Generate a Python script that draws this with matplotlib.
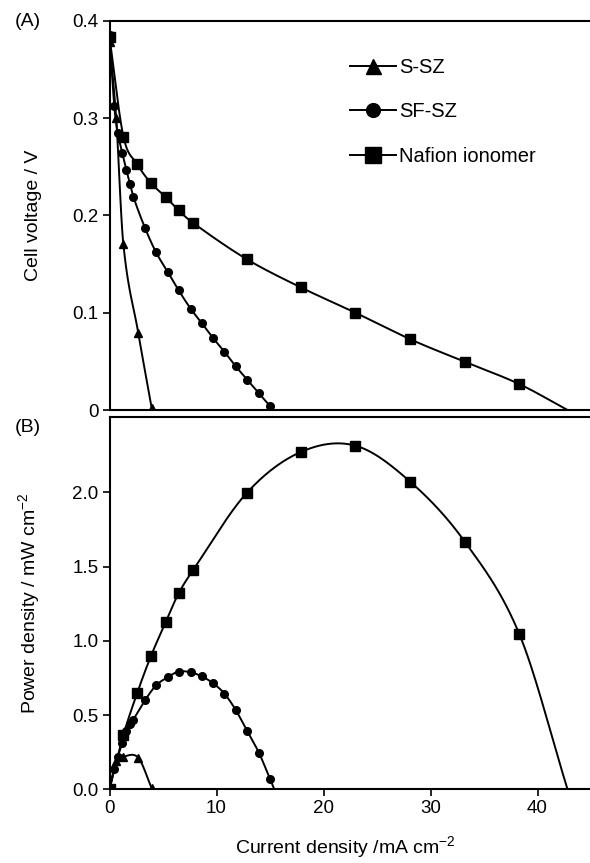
import numpy as np
import matplotlib
matplotlib.use("Agg")
import matplotlib.pyplot as plt

plt.rcParams['font.family'] = ['Liberation Sans', 'DejaVu Sans']
plt.rcParams['mathtext.default'] = 'regular'

# values
labels = ["S-SZ", "SF-SZ", "Nafion ionomer"]
markers = ["^", "o", "s"]
msizes = [6.0, 5.5, 6.5]

cur_s = [0.0, 0.62, 1.29, 2.69, 3.94]
volt_s = [0.378, 0.300, 0.171, 0.079, 0.002]
pow_s = [0.0, 0.190, 0.220, 0.212, 0.008]

cur_sf = [0.0, 0.45, 0.77, 1.2, 1.57, 1.92, 2.23, 3.32, 4.35, 5.44, 6.46,
          7.59, 8.64, 9.67, 10.73, 11.79, 12.88, 13.97, 15.0]
volt_sf = [0.385, 0.312, 0.285, 0.264, 0.247, 0.232, 0.219, 0.187, 0.162,
           0.142, 0.123, 0.104, 0.089, 0.074, 0.060, 0.045, 0.031, 0.017, 0.004]
pow_sf = [0.0, 0.14, 0.22, 0.31, 0.39, 0.44, 0.47, 0.60, 0.70, 0.755, 0.793,
          0.788, 0.760, 0.715, 0.645, 0.535, 0.390, 0.245, 0.070]

cur_n = [0.0, 1.3, 2.6, 3.88, 5.25, 6.46, 7.83, 12.82, 17.87, 22.97, 28.1,
         33.2, 38.3]
volt_n = [0.383, 0.281, 0.2525, 0.233, 0.219, 0.205, 0.192, 0.155, 0.126,
          0.100, 0.0727, 0.0495, 0.0266]
pow_n = [0.0, 0.366, 0.651, 0.899, 1.126, 1.320, 1.479, 1.996, 2.272, 2.315,
         2.072, 1.668, 1.045]

# current where each curve reaches zero
isc = [3.94, 15.4, 42.8]

currents = [cur_s, cur_sf, cur_n]
voltages = [volt_s, volt_sf, volt_n]
powers = [pow_s, pow_sf, pow_n]


def smooth(x, y, n=30):
    # cubic hermite through the points (excel-like smoothed line)
    x = np.asarray(x, float)
    y = np.asarray(y, float)
    m = np.zeros_like(y)
    m[0] = (y[1] - y[0]) / (x[1] - x[0])
    m[-1] = (y[-1] - y[-2]) / (x[-1] - x[-2])
    m[1:-1] = (y[2:] - y[:-2]) / (x[2:] - x[:-2])
    xs, ys = [], []
    for i in range(len(x) - 1):
        h = x[i + 1] - x[i]
        t = np.linspace(0, 1, n)
        h00 = 2 * t**3 - 3 * t**2 + 1
        h10 = t**3 - 2 * t**2 + t
        h01 = -2 * t**3 + 3 * t**2
        h11 = t**3 - t**2
        xs.append(x[i] + t * h)
        ys.append(h00 * y[i] + h10 * h * m[i] + h01 * y[i + 1] + h11 * h * m[i + 1])
    return np.concatenate(xs), np.concatenate(ys)


fig = plt.figure(figsize=(5.9, 8.63), dpi=100)
W, H = 590.0, 863.0
left = 109.5 / W
axA = fig.add_axes([left, 1 - 410 / H, 1 - left, (410 - 20.7) / H])
axB = fig.add_axes([left, 1 - 789.3 / H, 1 - left, (789.3 - 416.7) / H])

for i in range(3):
    x, v, p = currents[i], voltages[i], powers[i]
    xl, vl = list(x), list(v)
    if vl[-1] > 0.01:
        xl.append(isc[i]); vl.append(0.0)
    sx, sy = smooth(xl, vl)
    axA.plot(sx, sy, color='black', lw=1.4)
    axA.plot(x, v, ls='none', marker=markers[i], ms=msizes[i], color='black')
    axA.plot([], [], color='black', lw=1.4, marker=markers[i], ms=msizes[i],
             label=labels[i])

    xp, pl = list(x), list(p)
    if pl[-1] > 0.01:
        xp.append(isc[i]); pl.append(0.0)
    sx, sy = smooth(xp, pl)
    axB.plot(sx, sy, color='black', lw=1.4)
    axB.plot(x, p, ls='none', marker=markers[i], ms=msizes[i], color='black')

axA.set_xlim(0, 44.9)
axA.set_ylim(0, 0.4)
axA.set_yticks([0, 0.1, 0.2, 0.3, 0.4])
axA.set_yticklabels(["0", "0.1", "0.2", "0.3", "0.4"])
axA.set_xticks([])
axA.set_ylabel("Cell voltage / V", fontsize=14)
axA.yaxis.set_label_coords(-0.14, 0.5)

axB.set_xlim(0, 44.9)
axB.set_ylim(0, 2.51)
axB.set_xticks([0, 10, 20, 30, 40])
axB.set_yticks([0, 0.5, 1.0, 1.5, 2.0])
axB.set_yticklabels(["0.0", "0.5", "1.0", "1.5", "2.0"])
axB.set_ylabel("Power density / mW cm$^{-2}$", fontsize=14)
axB.yaxis.set_label_coords(-0.14, 0.5)
axB.set_xlabel("Current density /mA cm$^{-2}$", fontsize=14)
axB.xaxis.set_label_coords(0.49, -0.12)

for ax in (axA, axB):
    ax.spines['right'].set_visible(False)
    for s in ('left', 'top', 'bottom'):
        ax.spines[s].set_linewidth(1.5)
    ax.tick_params(direction='out', length=5, width=1.2, labelsize=13.5, pad=3)

axA.legend(loc='upper left', bbox_to_anchor=((350 - 109.5) / 480.5, 0.905),
           frameon=False, fontsize=14.5, handlelength=2.3, handletextpad=0.15,
           labelspacing=1.27, markerscale=1.8, borderpad=0, borderaxespad=0)

fig.text(15 / W, 1 - 22 / H, "(A)", fontsize=14, va='center')
fig.text(15 / W, 1 - 427 / H, "(B)", fontsize=14, va='center')

fig.savefig("out.png", dpi=100)
